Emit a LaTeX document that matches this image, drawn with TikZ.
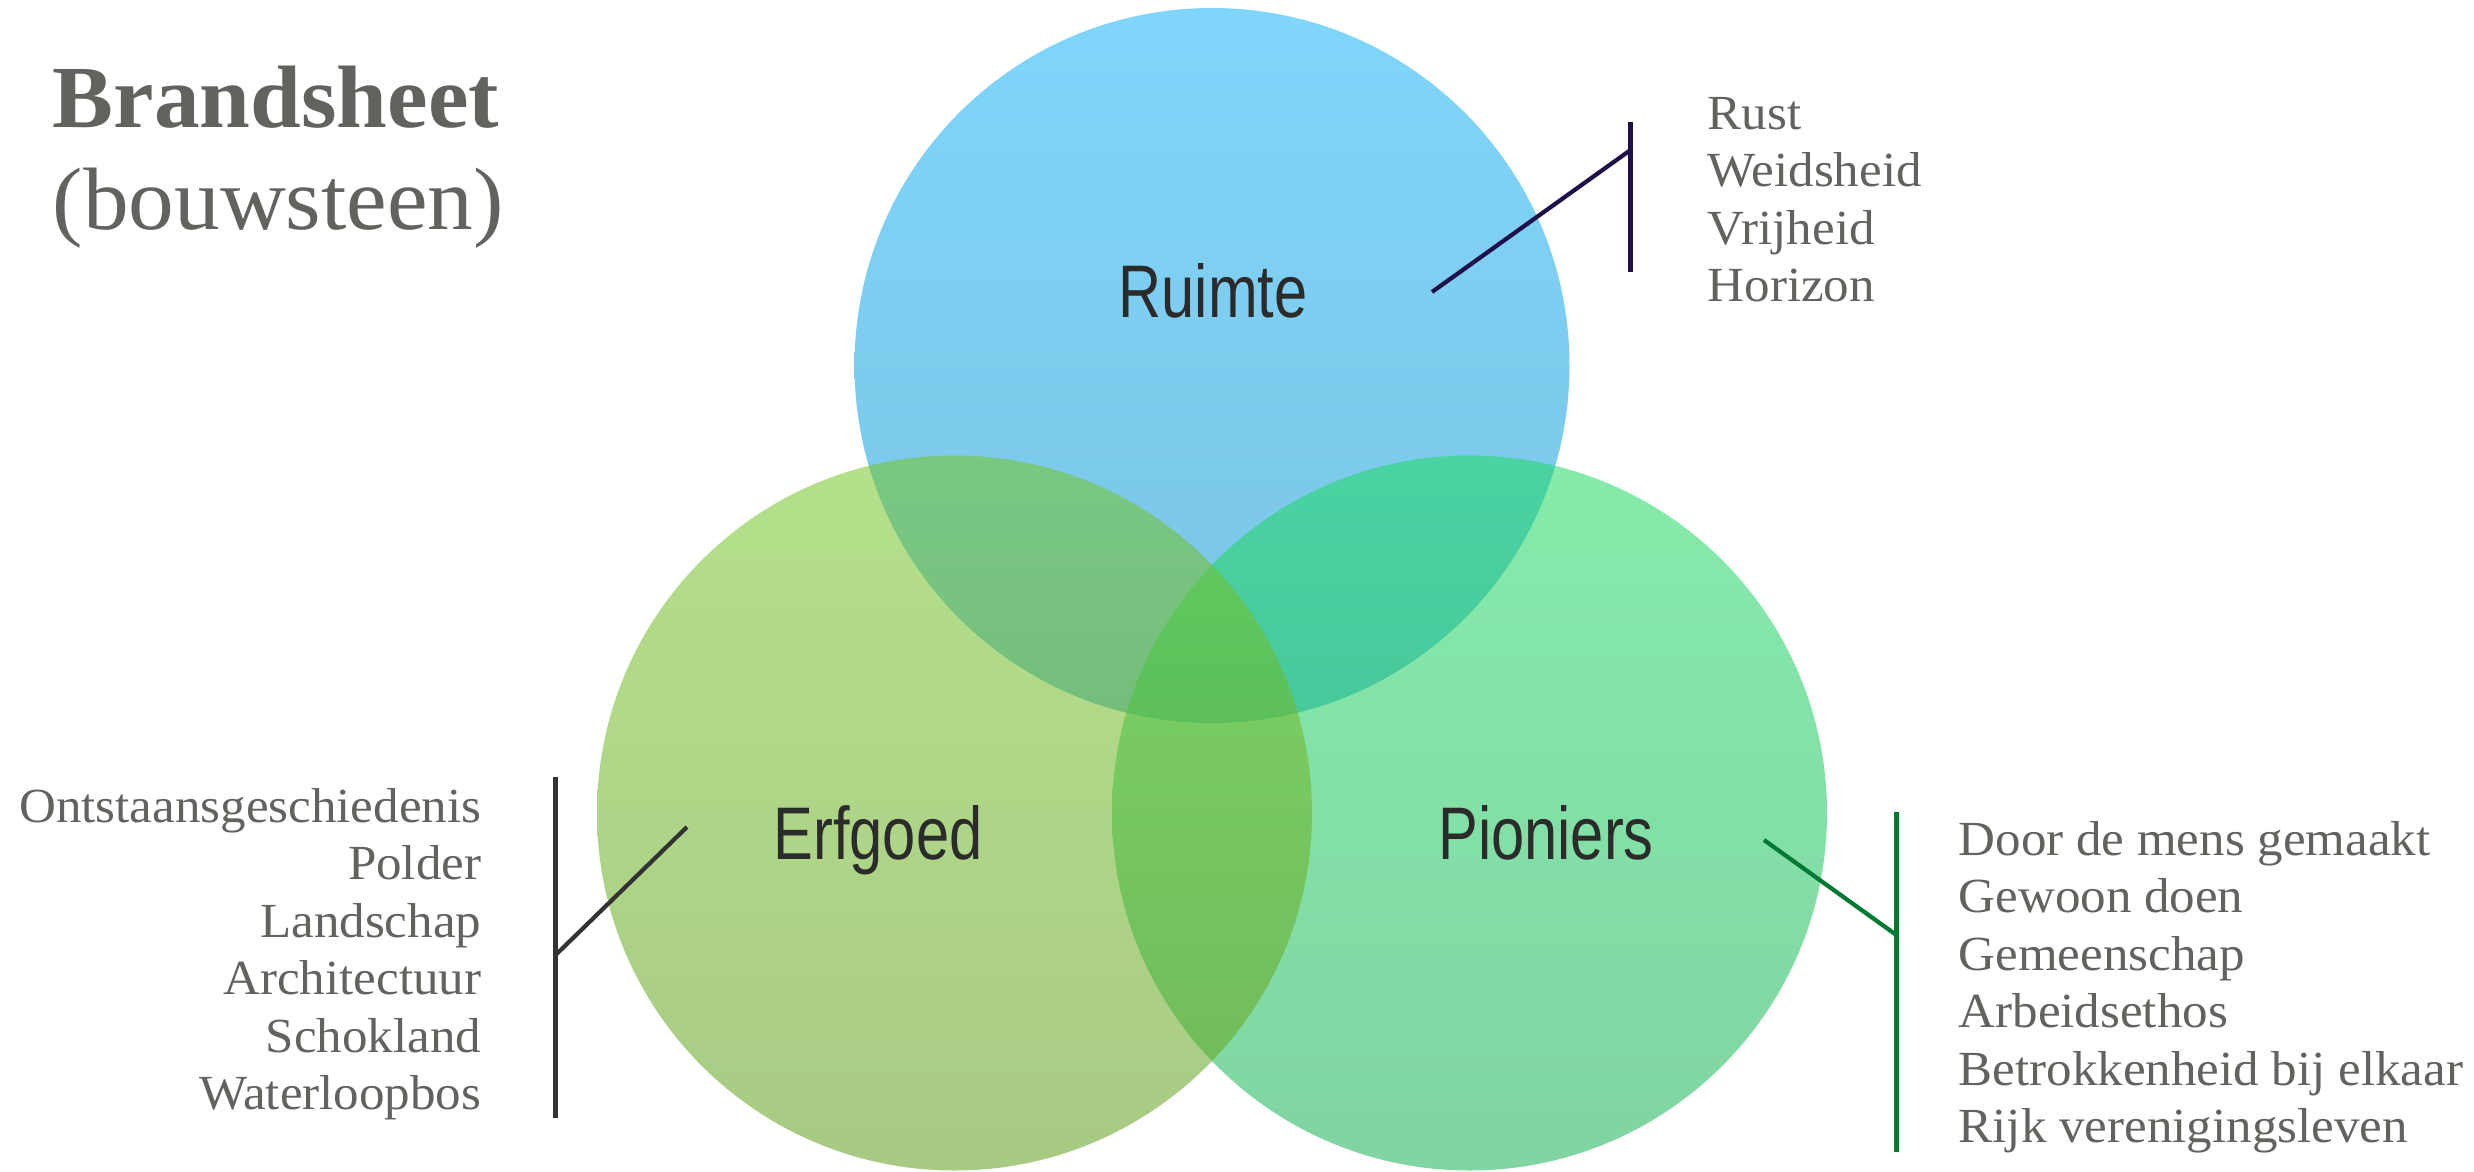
\documentclass[tikz,border=0pt]{standalone}
\usepackage{fontspec}
\setmainfont{Liberation Serif}
\newfontfamily\circfont{Liberation Sans}
\definecolor{txtgray}{RGB}{98,98,94}
\definecolor{lblgray}{RGB}{43,43,43}
\definecolor{rTop}{RGB}{127,213,250}
\definecolor{rBot}{RGB}{123,196,228}
\definecolor{eTop}{RGB}{120,200,44}
\definecolor{eBot}{RGB}{97,160,31}
\definecolor{pTop}{RGB}{35,219,102}
\definecolor{pBot}{RGB}{24,179,86}
\definecolor{lnR}{RGB}{32,16,74}
\definecolor{lnE}{RGB}{51,51,51}
\definecolor{lnP}{RGB}{0,122,51}
\newcommand{\wde}[1]{\scalebox{1.04}[1]{#1}}
\newcommand{\wdt}[1]{\scalebox{1.03}[1]{#1}}
\newcommand{\cndt}[1]{\scalebox{0.80}[1]{#1}}
\tikzset{
  item/.style={inner sep=0pt, text=txtgray, font=\fontsize{13.95pt}{16pt}\selectfont},
  ttl/.style={inner sep=0pt, text=txtgray, font=\fontsize{25.2pt}{29pt}\selectfont},
  circlbl/.style={inner sep=0pt, text=lblgray, anchor=base, font=\circfont\fontsize{21.2pt}{25pt}\selectfont},
  conn/.style={line width=1.2pt},
}
\begin{document}
\begin{tikzpicture}[x=0.01cm,y=-0.01cm]
\useasboundingbox (0,0) rectangle (2474,1172);
\fill[white] (0,0) rectangle (2474,1172);
% circles: Ruimte (bottom), Pioniers, Erfgoed (top)
\shade[top color=rTop, bottom color=rBot] (1212,365.5) circle (357.5);
\shade[top color=pTop, bottom color=pBot, fill opacity=0.55] (1469.5,813) circle (357.5);
\shade[top color=eTop, bottom color=eBot, fill opacity=0.55] (954.5,813) circle (357.5);
% circle labels
\node[circlbl] (ruimte) at (1213,317) {\cndt{Ruimte}};
\node[circlbl] (erfgoed) at (878,859) {\cndt{Erfgoed}};
\node[circlbl] (pioniers) at (1546,859) {\cndt{Pioniers}};
% title
\node[ttl, anchor=base west] (title) at (52,127) {\wdt{\bfseries Brandsheet}};
\node[ttl, anchor=base west] (subtitle) at (52,229) {\wdt{(bouwsteen)}};
% Ruimte list
\node[item, anchor=base west] (r1) at (1707,129) {\wde{Rust}};
\node[item, anchor=base west] (r2) at (1707,186.5) {\wde{Weidsheid}};
\node[item, anchor=base west] (r3) at (1707,244) {\wde{Vrijheid}};
\node[item, anchor=base west] (r4) at (1707,301.5) {\wde{Horizon}};
% Erfgoed list
\node[item, anchor=base east] (e1) at (482,822) {\wde{Ontstaansgeschiedenis}};
\node[item, anchor=base east] (e2) at (482,879.5) {\wde{Polder}};
\node[item, anchor=base east] (e3) at (482,937) {\wde{Landschap}};
\node[item, anchor=base east] (e4) at (482,994.5) {\wde{Architectuur}};
\node[item, anchor=base east] (e5) at (482,1052) {\wde{Schokland}};
\node[item, anchor=base east] (e6) at (482,1109.5) {\wde{Waterloopbos}};
% Pioniers list
\node[item, anchor=base west] (p1) at (1958,855) {\wde{Door de mens gemaakt}};
\node[item, anchor=base west] (p2) at (1958,912.5) {\wde{Gewoon doen}};
\node[item, anchor=base west] (p3) at (1958,970) {\wde{Gemeenschap}};
\node[item, anchor=base west] (p4) at (1958,1027.5) {\wde{Arbeidsethos}};
\node[item, anchor=base west] (p5) at (1958,1085) {\wde{Betrokkenheid bij elkaar}};
\node[item, anchor=base west] (p6) at (1958,1142.5) {\wde{Rijk verenigingsleven}};
% connectors
\coordinate (rA) at (1432,292);
\coordinate (rJ) at (1630.5,150);
\coordinate (rT) at (1630.5,122);
\coordinate (rB) at (1630.5,272);
\draw[conn, lnR] (rA) -- (rJ);
\draw[conn, lnR] (rT) -- (rB);
\coordinate (eA) at (687,827);
\coordinate (eJ) at (555.6,955);
\coordinate (eT) at (555.6,777);
\coordinate (eB) at (555.6,1118);
\draw[conn, lnE] (eA) -- (eJ);
\draw[conn, lnE] (eT) -- (eB);
\coordinate (pA) at (1764,840);
\coordinate (pJ) at (1896.4,935);
\coordinate (pT) at (1896.4,812);
\coordinate (pB) at (1896.4,1152);
\draw[conn, lnP] (pA) -- (pJ);
\draw[conn, lnP] (pT) -- (pB);
\end{tikzpicture}
\end{document}
